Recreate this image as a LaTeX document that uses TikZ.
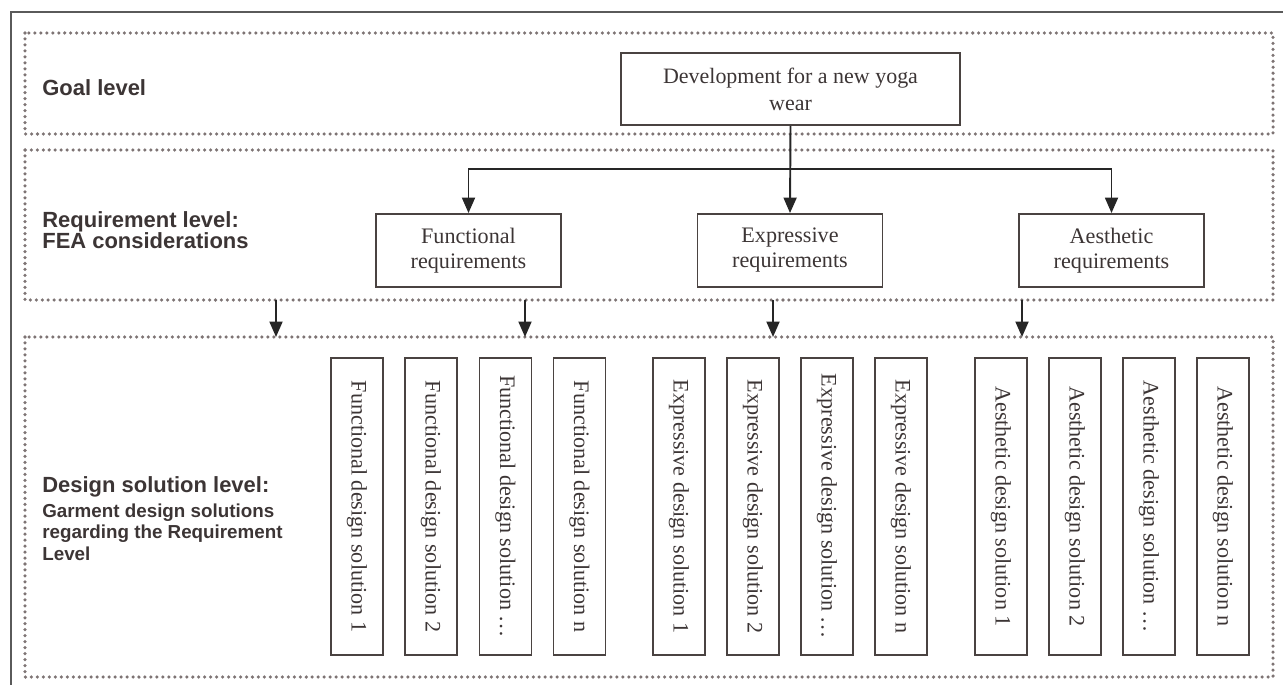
\documentclass[tikz,border=0pt]{standalone}
\usepackage{fontspec}
\setmainfont{Liberation Serif}
\setsansfont{Liberation Sans}
\usetikzlibrary{arrows.meta}

\definecolor{boxgray}{HTML}{4A4341}
\definecolor{dotgray}{HTML}{7E7474}
\definecolor{labgray}{HTML}{3C3535}
\definecolor{framegray}{HTML}{5A5A5A}

\newcommand{\subfnt}{\sffamily\bfseries\fontsize{10.7}{12.5}\selectfont}

\tikzset{
    levelband/.style={draw=dotgray, line width=2pt, line cap=round, dash pattern=on 0pt off 3.4pt},
    levellabel/.style={anchor=base west, align=left, inner sep=0pt, text=labgray,
        font=\sffamily\bfseries\fontsize{12.5}{12.2}\selectfont},
    reqbox/.style={draw=boxgray, line width=1.1pt, align=center, text=labgray,
        minimum width=3.7cm, minimum height=1.46cm, inner sep=0pt,
        font=\fontsize{12.6}{14.2}\selectfont},
    goalbox/.style={reqbox, minimum width=6.78cm, minimum height=1.44cm,
        font=\fontsize{12.5}{15.4}\selectfont},
    solbox/.style={draw=boxgray, line width=1.1pt, rotate=-90, text=labgray,
        minimum width=5.94cm, minimum height=1.04cm, inner sep=0pt,
        font=\fontsize{12.6}{14}\selectfont},
    flow/.style={draw=black!85, line width=1.1pt, -{Triangle[width=7.4pt,length=8.8pt]}},
}

\begin{document}
\begin{tikzpicture}[x=0.02cm,y=-0.02cm]
        \useasboundingbox (0,0) rectangle (1283,685);
        \draw[framegray, line width=1.1pt] (1283,12) -- (11,12) -- (11,685);

        \draw[levelband] (25,33)  rectangle (1273,134);
        \draw[levelband] (25,150) rectangle (1273,300);
        \draw[levelband] (25,337) rectangle (1273,677);

        \node[levellabel] (goallab) at (42,96)  {Goal level};
        \node[levellabel] (reqlab)  at (42,249) {Requirement level:\\FEA considerations};
        \node[levellabel] (sollab)  at (42,560) {Design solution level:\\[2pt]
            {\subfnt Garment design solutions}\\
            {\subfnt regarding the Requirement}\\
            {\subfnt Level}};

        \node[goalbox] (goal) at (790.5,89)   {Development for a new yoga\\wear};
        \node[reqbox]  (func) at (468.5,250.5) {Functional\\requirements};
        \node[reqbox]  (expr) at (790,250.5)   {Expressive\\requirements};
        \node[reqbox]  (aest) at (1111.5,250.5) {Aesthetic\\requirements};

        \coordinate (split) at (790,169);
        \draw[flow] (goal.south) -- (expr.north);
        \draw[flow] (split) -| (func.north);
        \draw[flow] (split) -| (aest.north);

        \foreach \x/\n in {276/a,525/b,773/c,1022/d} {
            \coordinate (down\n) at (\x,300);
            \coordinate (drop\n) at (\x,337);
            \draw[flow] (down\n) -- (drop\n);
        }

        \foreach \x/\s [count=\i] in {357/1,431/2,505.5/\dots,579.5/n} {
            \node[solbox] (funcsol\i) at (\x,506.5) {Functional design solution \s};
        }
        \foreach \x/\s [count=\i] in {679/1,753/2,827/\dots,901/n} {
            \node[solbox] (exprsol\i) at (\x,506.5) {Expressive design solution \s};
        }
        \foreach \x/\s [count=\i] in {1001/1,1075/2,1149/\dots,1223/n} {
            \node[solbox] (aestsol\i) at (\x,506.5) {Aesthetic design solution \s};
        }
    \end{tikzpicture}
\end{document}
